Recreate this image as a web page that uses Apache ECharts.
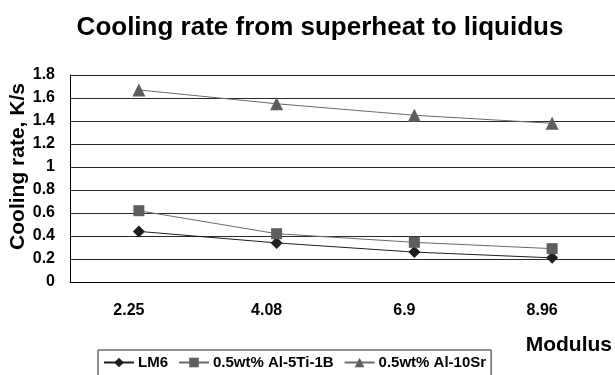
<!DOCTYPE html>
<html>
<head>
<meta charset="utf-8">
<script src="https://cdn.jsdelivr.net/npm/echarts@6/dist/echarts.min.js"></script>
<style>html,body{margin:0;padding:0;background:#fff}#chart{width:615px;height:375px}</style>
</head>
<body>
<div id="chart"></div>
<script>
// Casting modulus categories
const moduli = ['2.25', '4.08', '6.9', '8.96'];
// Cooling rate (K/s) for each alloy
const lm6 = [0.44, 0.34, 0.26, 0.21];
const alTiB = [0.62, 0.42, 0.345, 0.29];
const alSr = [1.67, 1.55, 1.45, 1.38];
const seriesNames = ['LM6', '0.5wt% Al-5Ti-1B', '0.5wt% Al-10Sr'];

const font = 'Arial, "Liberation Sans", sans-serif';
const chart = echarts.init(document.getElementById('chart'));

function lineSeries(name, data, symbol, size, color, lineColor) {
  return {
    name: name,
    type: 'line',
    data: data,
    symbol: symbol,
    symbolSize: size,
    itemStyle: { color: color },
    lineStyle: { color: lineColor, width: 1 },
    emphasis: { disabled: true }
  };
}

chart.setOption({
  animation: false,
  title: {
    text: 'Cooling rate from superheat to liquidus',
    left: 315,
    textAlign: 'center',
    top: 10,
    textStyle: { fontFamily: font, fontSize: 26, fontWeight: 'bold', color: '#000' }
  },
  legend: {
    data: seriesNames,
    left: 98,
    top: 350,
    padding: [5, 5, 8, 5],
    itemGap: 10,
    itemWidth: 30,
    itemHeight: 12,
    borderColor: '#222',
    borderWidth: 1,
    textStyle: { fontFamily: font, fontSize: 15, fontWeight: 'bold', color: '#000', padding: [0, 0, 0, -1] }
  },
  grid: { left: 70, right: -6, top: 75, bottom: 93, containLabel: false, outerBoundsMode: 'none' },
  xAxis: {
    type: 'category',
    data: moduli,
    boundaryGap: true,
    name: 'Modulus',
    nameLocation: 'end',
    nameGap: 0,
    nameMoveOverlap: false,
    nameTextStyle: {
      fontFamily: font, fontSize: 21, fontWeight: 'bold', color: '#000',
      align: 'right', verticalAlign: 'top', padding: [53, 9, 0, 0]
    },
    axisLine: { lineStyle: { color: '#000', width: 1 } },
    axisTick: { inside: true, length: 5, lineStyle: { color: '#000' } },
    axisLabel: {
      margin: 21, fontFamily: font, fontSize: 16, fontWeight: 'bold', color: '#000',
      padding: [0, 20, 0, 0]
    },
    splitLine: { show: false }
  },
  yAxis: {
    type: 'value',
    min: 0,
    max: 1.8,
    interval: 0.2,
    name: 'Cooling rate, K/s',
    nameLocation: 'middle',
    nameGap: 41,
    nameMoveOverlap: false,
    nameTextStyle: {
      fontFamily: font, fontSize: 21, fontWeight: 'bold', color: '#000',
      padding: [0, 0, 0, 24]
    },
    axisLine: { show: true, lineStyle: { color: '#000', width: 1 } },
    axisTick: { show: false },
    axisLabel: { margin: 15, fontFamily: font, fontSize: 16, fontWeight: 'bold', color: '#000' },
    splitLine: { show: true, lineStyle: { color: '#2a2a2a', width: 1 } }
  },
  series: [
    lineSeries(seriesNames[0], lm6, 'diamond', 12, '#1e1e1e', '#1e1e1e'),
    lineSeries(seriesNames[1], alTiB, 'rect', 11, '#5e5e5e', '#6a6a6a'),
    lineSeries(seriesNames[2], alSr, 'triangle', 13, '#5e5e5e', '#6a6a6a')
  ]
});
</script>
</body>
</html>
